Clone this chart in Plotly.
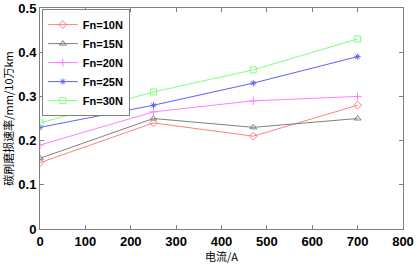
import plotly.graph_objects as go

current = [0, 250, 470, 700]
names = ["Fn=10N", "Fn=15N", "Fn=20N", "Fn=25N", "Fn=30N"]
fn10 = [0.15, 0.24, 0.21, 0.28]
fn15 = [0.16, 0.25, 0.23, 0.25]
fn20 = [0.19, 0.265, 0.29, 0.30]
fn25 = [0.23, 0.28, 0.33, 0.39]
fn30 = [0.24, 0.31, 0.36, 0.43]
series = [fn10, fn15, fn20, fn25, fn30]
colors = ["#ff8080", "#808080", "#ff80ff", "#6060ff", "#80ff80"]
symbols = ["diamond-open", "triangle-up-open", "cross-thin-open", "asterisk-open", "square-open"]
sizes = [6, 6, 6, 5, 6]

fig = go.Figure()
for n, s, c, m, sz in zip(names, series, colors, symbols, sizes):
    fig.add_trace(go.Scatter(x=current, y=s, name=n, mode="lines+markers",
                             line=dict(color=c, width=1),
                             marker=dict(symbol=m, size=sz, color=c, line=dict(color=c, width=1))))

axis_common = dict(showgrid=False, zeroline=False, showline=True, linecolor="#808080", linewidth=1,
                   mirror="ticks", ticks="inside", ticklen=4, tickcolor="#808080", automargin=False,
                   tickfont=dict(family="Arial, Liberation Sans", size=13, color="black", weight="bold"))
fig.update_layout(
    width=419, height=264,
    margin=dict(l=40, r=16, t=8, b=35),
    paper_bgcolor="white", plot_bgcolor="white",
    xaxis=dict(range=[0, 800], dtick=100, **axis_common,
               title=dict(text="电流/A", font=dict(family="Noto Sans CJK SC", size=11, color="black"), standoff=0)),
    yaxis=dict(range=[0, 0.5], dtick=0.1, **axis_common,
               title=dict(text="碳刷磨损速率/mm/10万km", font=dict(family="Noto Sans CJK SC", size=11, color="black"), standoff=4)),
    legend=dict(x=0.005, y=0.995, xanchor="left", yanchor="top", bgcolor="white",
                bordercolor="#808080", borderwidth=1,
                font=dict(family="Arial, Liberation Sans", size=11, color="black", weight="bold"),
                tracegroupgap=0, itemwidth=30),
    showlegend=True,
)
fig.write_html("out.html", config={"displayModeBar": False},
               post_script="document.body.style.margin='0';")
